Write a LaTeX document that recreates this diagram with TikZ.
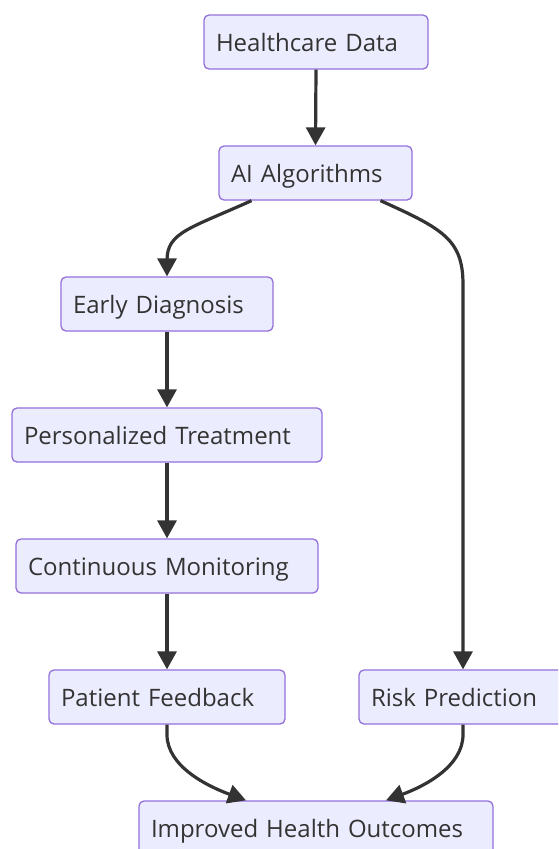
\documentclass[tikz,border=0pt]{standalone}
\usepackage{fontspec}
\setmainfont{Open Sans}
\usetikzlibrary{arrows.meta,calc}
\definecolor{boxfill}{HTML}{ECECFF}
\definecolor{boxline}{HTML}{9370DB}
\definecolor{ink}{HTML}{333333}
\tikzset{
  box/.style={draw=boxline, fill=boxfill, rounded corners=5pt, line width=1.3pt,
    minimum height=54pt, inner xsep=12pt, inner ysep=0pt, text=ink,
    font=\fontsize{24}{28}\selectfont, align=left, text width=#1,
    text height=23pt, text depth=5pt},
  link/.style={draw=ink, line width=3.2pt, -{Triangle[length=18pt,width=19pt]}}
}
\begin{document}
\begin{tikzpicture}[x=1pt,y=-1pt]
\clip (0,0) rectangle (558,849);
\useasboundingbox (0,0) rectangle (558,849);
\fill[white] (0,0) rectangle (558,849);
\node[box=200pt] (hd) at (316,42) {Healthcare Data};
\node[box=169pt] (ai) at (315.5,173) {AI Algorithms};
\node[box=188pt] (ed) at (167,304) {Early Diagnosis};
\node[box=286pt] (pt) at (167,435) {Personalized Treatment};
\node[box=278pt] (cm) at (167,566) {Continuous Monitoring};
\node[box=212pt] (pf) at (167,697) {Patient Feedback};
\node[box=184pt] (rp) at (463,697) {Risk Prediction};
\node[box=330pt] (io) at (316,828) {Improved Health Outcomes};
\draw[link] (hd.south) -- (ai.north);
\draw[link] ([xshift=-64pt]ai.south) .. controls +(-62,28) and +(0,-28) .. ([yshift=16pt]ed.north) -- (ed.north);
\draw[link] ([xshift=65pt]ai.south) .. controls +(62,28) and +(0,-45) .. ([yshift=385pt]rp.north) -- (rp.north);
\draw[link] (ed.south) -- (pt.north);
\draw[link] (pt.south) -- (cm.north);
\draw[link] (cm.south) -- (pf.north);
\draw[link] (pf.south) -- ++(0,10) .. controls +(0,32) and +(-38,-14) .. ([xshift=-70pt]io.north);
\draw[link] (rp.south) -- ++(0,10) .. controls +(0,32) and +(38,-14) .. ([xshift=70pt]io.north);
\end{tikzpicture}
\end{document}
